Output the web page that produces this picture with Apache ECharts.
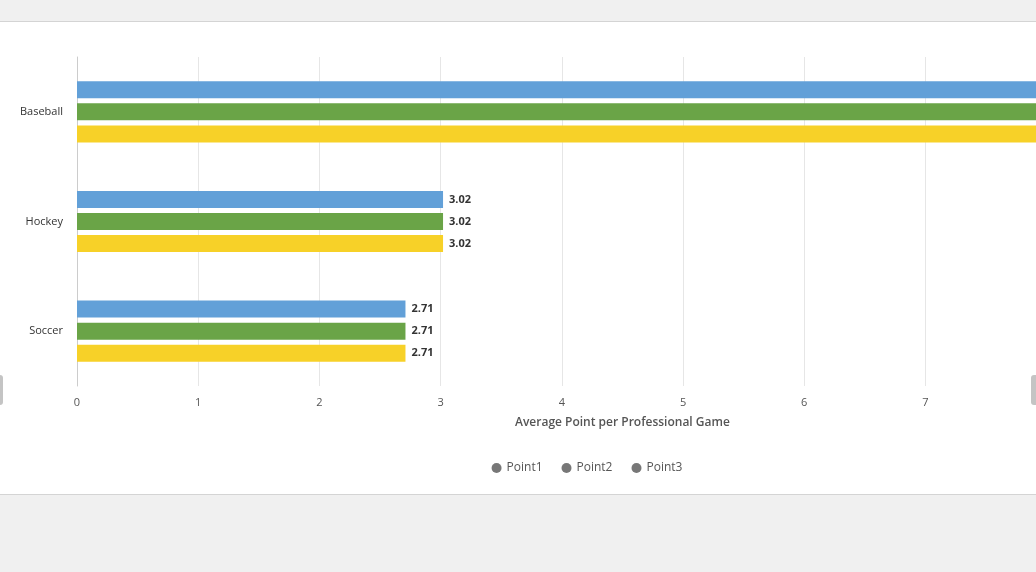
<!DOCTYPE html>
<html>
<head>
<meta charset="utf-8">
<script src="https://cdn.jsdelivr.net/npm/echarts@6/dist/echarts.min.js"></script>
<style>
	html, body { margin: 0; padding: 0; width: 1036px; height: 572px; overflow: hidden; background: #f0f0f0; }
	.panel { position: absolute; left: 0; top: 21px; width: 1036px; height: 472px; background: #fff; border-top: 1px solid #d4d4d4; border-bottom: 1px solid #d4d4d4; }
	.chart { position: absolute; left: 0; top: 0; width: 1174px; height: 572px; }
	.arrow { position: absolute; top: 375px; width: 10px; height: 30px; background: #c4c4c4; border-radius: 3px; }
</style>
</head>
<body>
<div class="panel"></div>
<div class="arrow" style="left:-7px"></div>
<div class="arrow" style="left:1031px"></div>
<div class="chart"></div>
<script>
// 数据
var categories = ['Baseball', 'Hockey', 'Soccer'];
var seriesNames = ['Point1', 'Point2', 'Point3'];
var point1 = [8.8, 3.02, 2.71];
var point2 = [8.8, 3.02, 2.71];
var point3 = [8.8, 3.02, 2.71];
var xTicks = [0, 9, 1]; // min, max, interval

(function () {
	let myCharts = echarts.init(document.querySelector('.chart'))
	var myColor = ['#62a0d8', '#6aa447', '#f7d128'];
	var values = [point1, point2, point3];
	var font = '"Open Sans", sans-serif';

	let series = seriesNames.map(function (name, i) {
		return {
			name: name,
			type: 'bar',
			data: values[i],
			barWidth: 17,
			barGap: '30%',
			itemStyle: { color: myColor[i] },
			// 柱子右侧数值
			label: {
				show: true,
				position: 'right',
				distance: 6,
				fontFamily: font,
				fontSize: 11,
				fontWeight: 'bold',
				color: '#333',
				formatter: function (p) { return p.value.toFixed(2) }
			}
		}
	});

	let option = {
		animation: false,
		textStyle: { fontFamily: font },
		grid: {
			left: 77,
			right: 6,
			top: 57,
			bottom: 186
		},
		legend: {
			data: seriesNames,
			top: 457,
			icon: 'circle',
			itemWidth: 10,
			itemHeight: 10,
			itemGap: 19,
			itemStyle: { color: '#777' },
			textStyle: { color: '#555', fontSize: 12, fontFamily: font }
		},
		xAxis: {
			type: 'value',
			min: xTicks[0],
			max: xTicks[1],
			interval: xTicks[2],
			name: 'Average Point per Professional Game',
			nameLocation: 'middle',
			nameGap: 31,
			nameTextStyle: { color: '#555', fontSize: 12, fontWeight: 600, fontFamily: font },
			axisLine: { show: false },
			axisTick: { show: false },
			axisLabel: { color: '#555', fontSize: 11, margin: 11 },
			splitLine: { lineStyle: { color: '#e6e6e6' } }
		},
		yAxis: {
			type: 'category',
			data: categories,
			inverse: true,
			axisLine: { lineStyle: { color: '#ccc' } },
			axisTick: { show: false },
			axisLabel: { color: '#333', fontSize: 11, margin: 14 }
		},
		series: series
	};
	myCharts.setOption(option)
})()
</script>
</body>
</html>
